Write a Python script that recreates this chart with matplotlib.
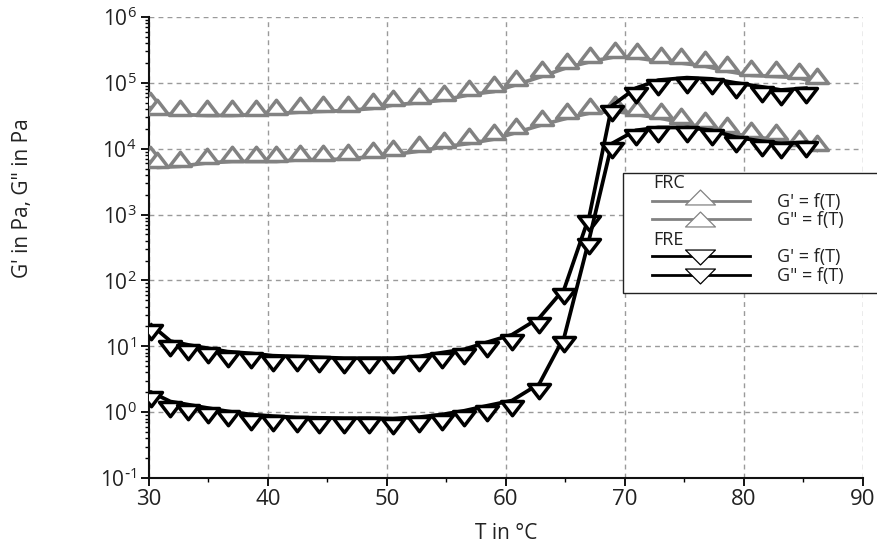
import matplotlib
matplotlib.use("Agg")
import matplotlib.pyplot as plt
from matplotlib.path import Path
from matplotlib.lines import Line2D
from matplotlib.patches import Rectangle
from matplotlib.ticker import LogLocator, MultipleLocator, NullFormatter, FixedLocator, FuncFormatter
import math

plt.rcParams['font.family'] = ['Open Sans', 'DejaVu Sans']
plt.rcParams['axes.unicode_minus'] = False

# ---------------- data ----------------
T_frc = [30.1, 30.7, 32.6, 34.9, 37.0, 39.0, 40.7, 42.7, 44.6, 46.7, 48.8, 50.5,
         52.7, 54.8, 56.9, 59.0, 60.8, 63.0, 65.1, 67.1, 69.2, 71.0, 73.0, 74.7,
         76.7, 78.6, 80.6, 82.7, 84.6, 86.1]
frc_G1 = [4.3e4, 3.4e4, 3.3e4, 3.2e4, 3.2e4, 3.3e4, 3.4e4, 3.6e4, 3.7e4, 3.8e4,
          4.1e4, 4.6e4, 5.0e4, 5.5e4, 6.6e4, 7.4e4, 9.3e4, 1.25e5, 1.7e5, 2.1e5,
          2.5e5, 2.4e5, 2.1e5, 2.0e5, 1.8e5, 1.5e5, 1.3e5, 1.25e5, 1.2e5, 1.0e5]
frc_G2 = [6.5e3, 5.2e3, 5.4e3, 6.1e3, 6.4e3, 6.4e3, 6.4e3, 6.8e3, 6.8e3, 7.0e3,
          7.6e3, 8.1e3, 9.2e3, 1.07e4, 1.2e4, 1.4e4, 1.75e4, 2.3e4, 2.9e4, 3.5e4,
          3.7e4, 3.3e4, 2.9e4, 2.5e4, 2.1e4, 1.8e4, 1.5e4, 1.4e4, 1.15e4, 9.5e3]

T_fre = [30.2, 31.8, 33.3, 35.0, 36.6, 38.6, 40.4, 42.4, 44.3, 46.4, 48.5, 50.5,
         52.7, 54.6, 56.5, 58.4, 60.5, 62.8, 64.9, 67.0, 68.9, 70.9, 72.8, 75.2,
         77.3, 79.3, 81.5, 83.1, 85.2]
fre_G1 = [21, 12, 10.5, 9.3, 8.3, 7.8, 7.2, 7.0, 6.8, 6.6, 6.6, 6.6, 7.0, 8.0,
          9.0, 11.5, 15, 27, 75, 950, 4.5e4, 8.3e4, 1.1e5, 1.2e5, 1.15e5, 1.0e5,
          8.7e4, 7.8e4, 8.3e4]
fre_G2 = [2.0, 1.45, 1.3, 1.15, 1.03, 0.92, 0.87, 0.83, 0.82, 0.81, 0.81, 0.80,
          0.84, 0.92, 1.05, 1.25, 1.5, 2.7, 14, 430, 1.2e4, 1.9e4, 2.1e4, 2.1e4,
          1.9e4, 1.5e4, 1.3e4, 1.2e4, 1.25e4]

x_ticks = [30, 40, 50, 60, 70, 80, 90]
y_ticks = [1e-1, 1e0, 1e1, 1e2, 1e3, 1e4, 1e5, 1e6]
legend_groups = ["FRC", "FRE"]
legend_labels = ["G' = f(T)", 'G" = f(T)']
x_label = "T in °C"
y_label = 'G\' in Pa, G" in Pa'

# ---------------- figure ----------------
W, H = 878, 548
fig = plt.figure(figsize=(W / 100, H / 100), dpi=100)
fig.patch.set_facecolor('white')

def fx(px):
    return px / W

def fy(py):
    return 1 - py / H

ax_l, ax_r, ax_t, ax_b = 149, 863, 17, 478
ax = fig.add_axes([fx(ax_l), fy(ax_b), (ax_r - ax_l) / W, (ax_b - ax_t) / H])
ax.set_yscale('log')
ax.set_xlim(30, 90)
ax.set_ylim(1e-1, 1e6)

# markers with flat edge on the data point
C = Path.CLOSEPOLY
up_mk = Path([(-1, 0), (1, 0), (0, 1.3), (-1, 0)], [1, 2, 2, C])
dn_mk = Path([(-1, 0), (1, 0), (0, -1.3), (-1, 0)], [1, 2, 2, C])

GRAY = '#828282'
BLACK = '#000000'
lw = 2.7
ms = 20.5
mew = 2.5

for y in (frc_G1, frc_G2):
    ax.plot(T_frc, y, color=GRAY, lw=lw, marker=up_mk, ms=ms, mfc='white',
            mec=GRAY, mew=mew, zorder=3, solid_joinstyle='round')
for y in (fre_G1, fre_G2):
    ax.plot(T_fre, y, color=BLACK, lw=lw, marker=dn_mk, ms=ms, mfc='white',
            mec=BLACK, mew=mew, zorder=4, solid_joinstyle='round')

# grid / spines / ticks
ax.grid(True, which='major', color='#9a9a9a', lw=1.0, ls=(0, (3.5, 3)))
ax.set_axisbelow(True)
for s in ('top', 'right'):
    ax.spines[s].set_visible(False)
for s in ('left', 'bottom'):
    ax.spines[s].set_linewidth(1.5)
    ax.spines[s].set_color('#111111')

def log_fmt(v, pos):
    e = int(round(math.log10(v)))
    if e < 0:
        return r'$\mathdefault{10^{\text{-}%d}}$' % (-e)
    return r'$\mathdefault{10^{%d}}$' % e

ax.xaxis.set_major_locator(FixedLocator(x_ticks))
ax.xaxis.set_minor_locator(MultipleLocator(5))
ax.yaxis.set_major_locator(FixedLocator(y_ticks))
ax.yaxis.set_major_formatter(FuncFormatter(log_fmt))
ax.yaxis.set_minor_locator(LogLocator(base=10, subs=range(2, 10), numticks=20))
ax.yaxis.set_minor_formatter(NullFormatter())
ax.xaxis.set_minor_formatter(NullFormatter())
ax.tick_params(which='major', direction='out', length=6, width=1.3,
               labelsize=15, labelcolor='#222222', pad=3)
ax.tick_params(which='minor', direction='out', length=3, width=1.0)
ax.tick_params(axis='x', labelsize=16, pad=2)

ax.set_xlabel(x_label, fontsize=15, color='#222222', labelpad=9)
fig.text(fx(23), fy(198), y_label, rotation=90, ha='center', va='center',
         fontsize=15, color='#222222')

# ---------------- legend (drawn manually) ----------------
leg_box = Rectangle((fx(623), fy(293)), fx(900) - fx(623), fy(173) - fy(293),
                    transform=fig.transFigure, fill=True, facecolor='white',
                    edgecolor='#222222', lw=1.0, zorder=10, clip_on=True)
fig.add_artist(leg_box)

leg_mk_up = Path([(-1, -0.5), (1, -0.5), (0, 0.5), (-1, -0.5)], [1, 2, 2, C])
leg_mk_dn = Path([(-1, 0.5), (1, 0.5), (0, -0.5), (-1, 0.5)], [1, 2, 2, C])

rows = [
    (legend_groups[0], 183, [(201, 197), (219, 219)], GRAY, leg_mk_up),
    (legend_groups[1], 240, [(256, 257), (275, 276)], BLACK, leg_mk_dn),
]
for name, hy, entries, col, mk in rows:
    fig.text(fx(653), fy(hy), name, ha='left', va='center', fontsize=13,
             color='#222222', zorder=11)
    for (ly, my), lab in zip(entries, legend_labels):
        fig.add_artist(Line2D([fx(652), fx(750)], [fy(ly), fy(ly)],
                              transform=fig.transFigure, color=col, lw=2.0,
                              zorder=11))
        fig.add_artist(Line2D([fx(700)], [fy(my)], transform=fig.transFigure,
                              ls='none', marker=mk, ms=21.5, mfc='white',
                              mec=col, mew=0.9, zorder=12))
        fig.text(fx(777), fy(ly + 1), lab, ha='left', va='center', fontsize=13,
                 color='#222222', zorder=11)

fig.savefig('out.png', dpi=100)
